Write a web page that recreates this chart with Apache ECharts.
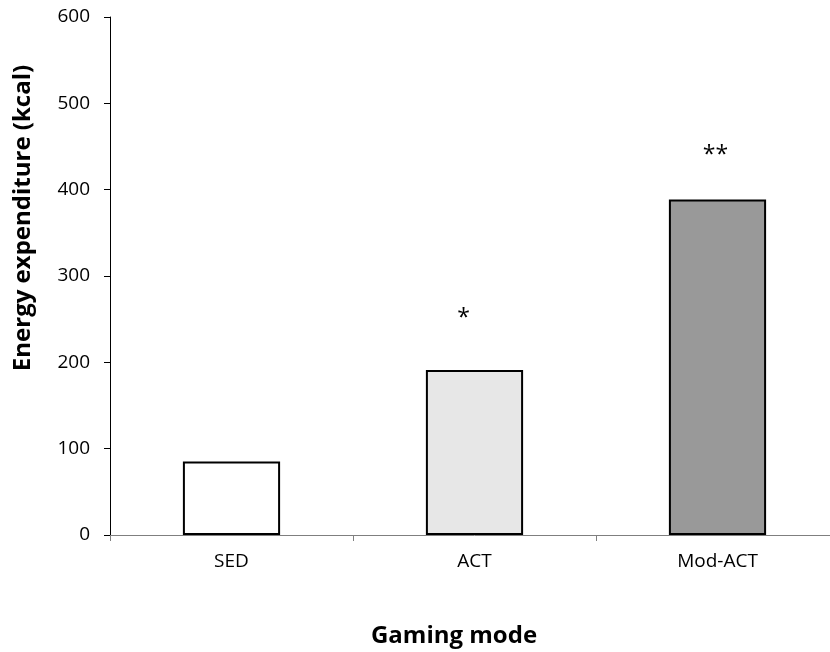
<!DOCTYPE html>
<html>
<head>
<meta charset="utf-8">
<script src="https://cdn.jsdelivr.net/npm/echarts@6/dist/echarts.min.js"></script>
<style>
  html, body { margin: 0; padding: 0; background: #ffffff; overflow: hidden; }
  #chart { width: 839px; height: 652px; }
</style>
</head>
<body>
<div id="chart"></div>
<script>
// Energy expenditure by gaming mode
const categories = ['SED', 'ACT', 'Mod-ACT'];
const energyKcal = [85, 191, 388.5];
const sigMarks = ['', '*', '**'];
const yTicks = [0, 100, 200, 300, 400, 500, 600];

const barFills = ['#ffffff', '#e7e7e7', '#999999'];
const markDistance = [0, 40, 33];
const markShiftX = [0, -11, -2];

const FONT = '"Open Sans", "DejaVu Sans", sans-serif';

const chart = echarts.init(document.getElementById('chart'), null, { renderer: 'canvas' });

const barData = energyKcal.map((v, i) => ({
  value: v,
  itemStyle: { color: barFills[i] },
  label: {
    show: sigMarks[i] !== '',
    formatter: sigMarks[i],
    position: 'top',
    distance: markDistance[i],
    offset: [markShiftX[i], 0]
  }
}));

chart.setOption({
  animation: false,
  backgroundColor: '#ffffff',
  // the category axis runs a little past the right edge of the visible page
  grid: { left: 110, right: 0, top: 17, bottom: 117, containLabel: false },
  xAxis: {
    type: 'category',
    data: categories,
    boundaryGap: true,
    axisLine: { show: true, lineStyle: { color: '#7f7f7f', width: 1 } },
    axisTick: { show: true, alignWithLabel: false, length: 6, lineStyle: { color: '#7f7f7f' } },
    axisLabel: { color: '#000', fontFamily: FONT, fontSize: 19, margin: 17 },
    splitLine: { show: false }
  },
  yAxis: {
    type: 'value',
    min: yTicks[0],
    max: yTicks[yTicks.length - 1],
    interval: yTicks[1] - yTicks[0],
    axisLine: { show: true, lineStyle: { color: '#000', width: 1 } },
    axisTick: { show: true, length: 6, lineStyle: { color: '#000' } },
    axisLabel: { color: '#000', fontFamily: FONT, fontSize: 19, margin: 20 },
    splitLine: { show: false }
  },
  series: [{
    type: 'bar',
    data: barData,
    barWidth: '40%',
    itemStyle: { borderColor: '#000', borderWidth: 2 },
    label: { color: '#000', fontFamily: FONT, fontSize: 23 }
  }],
  graphic: [
    {
      type: 'text',
      x: 23, y: 218,
      rotation: Math.PI / 2,
      style: {
        text: 'Energy expenditure (kcal)',
        x: 0, y: 0,
        align: 'center', verticalAlign: 'middle',
        font: 'bold 24px ' + FONT,
        fill: '#000'
      }
    },
    {
      type: 'text',
      x: 454, y: 636,
      style: {
        text: 'Gaming mode',
        x: 0, y: 0,
        align: 'center', verticalAlign: 'middle',
        font: 'bold 24px ' + FONT,
        fill: '#000'
      }
    }
  ]
});
</script>
</body>
</html>
